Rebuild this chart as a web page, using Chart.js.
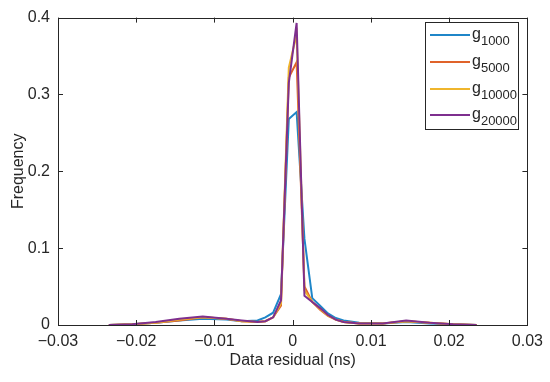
<!DOCTYPE html>
<html>
<head>
<meta charset="utf-8">
<script src="https://cdn.jsdelivr.net/npm/chart.js@4"></script>
<style>
  html, body { margin: 0; padding: 0; background: #fff; }
  #wrap { width: 550px; height: 382px; }
</style>
</head>
<body>
<div id="wrap"><canvas id="resid-chart" width="550" height="382"></canvas></div>
<script>
// bin centres of the residual histogram (ns)
const binCentres = [-0.0235, -0.0205, -0.0175, -0.0145, -0.0115, -0.0085, -0.0065, -0.0045, -0.0035, -0.0025, -0.0015, -0.0005,
  0.0005, 0.0015, 0.0025, 0.0035, 0.0045, 0.0055, 0.0065, 0.0085, 0.0115, 0.0145, 0.0175, 0.0205, 0.0235];

const g1000  = [0.000, 0.001, 0.003, 0.006, 0.008, 0.007, 0.005, 0.006, 0.010, 0.016, 0.040, 0.268,
  0.277, 0.112, 0.035, 0.025, 0.015, 0.009, 0.006, 0.003, 0.002, 0.004, 0.002, 0.001, 0.000];
const g5000  = [0.000, 0.001, 0.003, 0.006, 0.010, 0.008, 0.005, 0.004, 0.005, 0.010, 0.025, 0.322,
  0.342, 0.050, 0.030, 0.020, 0.012, 0.007, 0.004, 0.002, 0.002, 0.005, 0.003, 0.001, 0.000];
const g10000 = [0.000, 0.001, 0.003, 0.007, 0.010, 0.008, 0.005, 0.004, 0.005, 0.010, 0.028, 0.335,
  0.378, 0.045, 0.030, 0.021, 0.012, 0.007, 0.004, 0.002, 0.002, 0.005, 0.003, 0.001, 0.000];
const g20000 = [0.000, 0.001, 0.004, 0.008, 0.011, 0.008, 0.006, 0.004, 0.005, 0.010, 0.032, 0.315,
  0.393, 0.038, 0.030, 0.022, 0.013, 0.007, 0.004, 0.002, 0.002, 0.006, 0.003, 0.001, 0.000];

const seriesNames = ['1000', '5000', '10000', '20000'];
const seriesColors = ['#1f86c8', '#e0632a', '#efb52c', '#7e2f8e'];
const xTicks = [-0.03, -0.02, -0.01, 0, 0.01, 0.02, 0.03];
const yTicks = [0, 0.1, 0.2, 0.3, 0.4];

const FONT = "'Liberation Sans', Arial, sans-serif";
const INK = '#262626';

function toPoints(vals) {
  return vals.map((v, i) => ({ x: binCentres[i], y: v }));
}

function fmt(v, d) {
  if (Math.abs(v) < 1e-9) return '0';
  return v.toFixed(d).replace('-', '\u2212');
}

// matlab style box with inward ticks + legend with subscripts
const matlabFrame = {
  id: 'matlabFrame',
  afterDraw(chart) {
    const { ctx, chartArea: a, scales } = chart;
    const tl = 5;
    ctx.save();
    ctx.strokeStyle = INK;
    ctx.lineWidth = 1;
    ctx.strokeRect(Math.round(a.left) + 0.5, Math.round(a.top) + 0.5,
      Math.round(a.right - a.left), Math.round(a.bottom - a.top));
    ctx.beginPath();
    xTicks.forEach(t => {
      const px = Math.round(scales.x.getPixelForValue(t)) + 0.5;
      ctx.moveTo(px, a.bottom); ctx.lineTo(px, a.bottom - tl);
      ctx.moveTo(px, a.top); ctx.lineTo(px, a.top + tl);
    });
    yTicks.forEach(t => {
      const py = Math.round(scales.y.getPixelForValue(t)) + 0.5;
      ctx.moveTo(a.left, py); ctx.lineTo(a.left + tl, py);
      ctx.moveTo(a.right, py); ctx.lineTo(a.right - tl, py);
    });
    ctx.stroke();

    // legend
    const bx = 425.5, by = 22.5, bw = 93, bh = 107;
    ctx.fillStyle = '#fff';
    ctx.fillRect(bx, by, bw, bh);
    ctx.strokeStyle = INK;
    ctx.strokeRect(bx, by, bw, bh);
    const rows = [35, 62, 89, 115];
    seriesNames.forEach((n, i) => {
      const y = rows[i];
      ctx.strokeStyle = seriesColors[i];
      ctx.lineWidth = 2;
      ctx.beginPath();
      ctx.moveTo(430, y); ctx.lineTo(470, y);
      ctx.stroke();
      ctx.fillStyle = INK;
      ctx.textBaseline = 'alphabetic';
      ctx.textAlign = 'left';
      ctx.font = '16px ' + FONT;
      ctx.fillText('g', 472, y + 4);
      const gw = ctx.measureText('g').width;
      ctx.font = '13px ' + FONT;
      ctx.fillText(n, 472 + gw, y + 10);
    });
    ctx.restore();
  }
};

const ctx = document.getElementById('resid-chart').getContext('2d');
new Chart(ctx, {
  type: 'line',
  data: {
    datasets: [g1000, g5000, g10000, g20000].map((vals, i) => ({
      label: 'g' + seriesNames[i],
      data: toPoints(vals),
      borderColor: seriesColors[i],
      borderWidth: 2,
      pointRadius: 0,
      tension: 0,
      fill: false,
      order: 3 - i   // later series on top, like matlab
    }))
  },
  options: {
    responsive: false,
    animation: false,
    events: [],
    layout: { padding: { left: 0, top: 9, right: 17, bottom: 0 } },
    plugins: { legend: { display: false }, tooltip: { enabled: false } },
    scales: {
      x: {
        type: 'linear',
        min: -0.03,
        max: 0.03,
        afterBuildTicks(s) { s.ticks = xTicks.map(v => ({ value: v })); },
        afterFit(s) { s.height = 57; },
        grid: { display: false, drawTicks: false },
        border: { display: false },
        ticks: {
          padding: 7,
          color: INK,
          font: { family: FONT, size: 16 },
          maxRotation: 0,
          callback: v => fmt(v, 2)
        },
        title: {
          display: true,
          text: 'Data residual (ns)',
          color: INK,
          font: { family: FONT, size: 16 },
          padding: { top: 2, bottom: 12 }
        }
      },
      y: {
        min: 0,
        max: 0.4,
        afterBuildTicks(s) { s.ticks = yTicks.map(v => ({ value: v })); },
        afterFit(s) { s.width = 58; },
        grid: { display: false, drawTicks: false },
        border: { display: false },
        ticks: {
          padding: 8,
          color: INK,
          font: { family: FONT, size: 16 },
          callback: v => fmt(v, 1)
        },
        title: {
          display: true,
          text: 'Frequency',
          color: INK,
          font: { family: FONT, size: 16 },
          padding: { top: 9, bottom: 2 }
        }
      }
    }
  },
  plugins: [matlabFrame]
});
</script>
</body>
</html>
